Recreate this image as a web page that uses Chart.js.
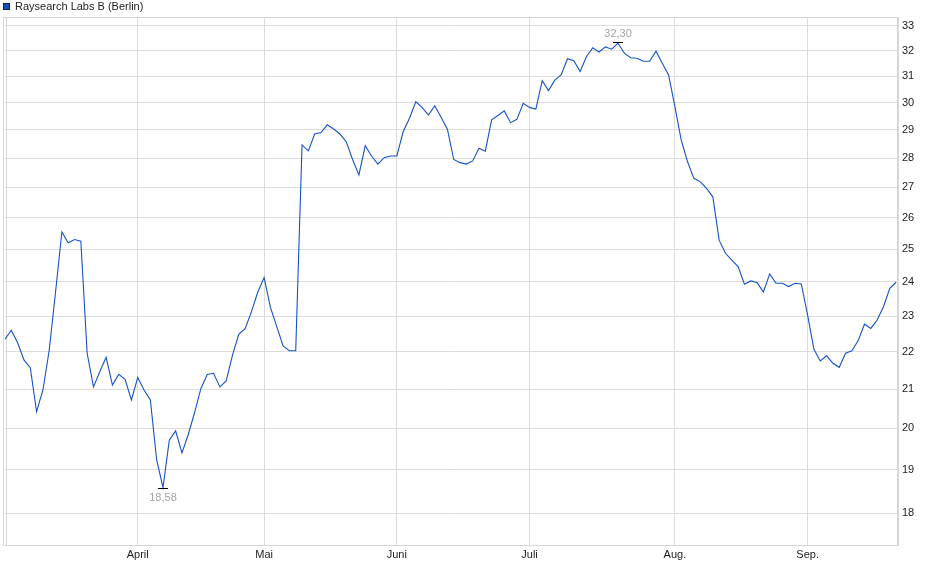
<!DOCTYPE html>
<html>
<head>
<meta charset="utf-8">
<script src="https://cdn.jsdelivr.net/npm/chart.js@4.4.1/dist/chart.umd.min.js"></script>
<style>
html,body{margin:0;padding:0;background:#fff;}
#wrap{width:940px;height:579px;}
</style>
</head>
<body>
<div id="wrap"><canvas id="c" width="940" height="579"></canvas></div>
<script>
const seriesName = 'Raysearch Labs B (Berlin)';
// closing prices per trading day (index 0 = first day in chart)
const prices = [
  22.35, 22.60, 22.25, 21.78, 21.57, 20.42, 20.98, 22.05, 23.70, 25.54,
  25.20, 25.30, 25.25, 21.96, 21.06, 21.46, 21.85, 21.11, 21.39, 21.26,
  20.72, 21.31, 20.98, 20.72, 19.23, 18.58, 19.71, 19.94, 19.40, 19.85,
  20.40, 21.02, 21.39, 21.42, 21.06, 21.22, 21.91, 22.49, 22.64, 23.13,
  23.70, 24.13, 23.25, 22.70, 22.16, 22.03, 22.03, 28.46, 28.25, 28.85,
  28.90, 29.18, 29.03, 28.85, 28.57, 27.95, 27.42, 28.43, 28.07, 27.79,
  28.01, 28.07, 28.07, 28.93, 29.42, 30.03, 29.82, 29.54, 29.88, 29.46,
  29.02, 27.95, 27.84, 27.79, 27.90, 28.34, 28.24, 29.36, 29.52, 29.69,
  29.26, 29.38, 29.97, 29.82, 29.76, 30.83, 30.45, 30.85, 31.05, 31.68,
  31.60, 31.18, 31.76, 32.12, 31.95, 32.15, 32.06, 32.30, 31.90, 31.72,
  31.70, 31.58, 31.58, 31.98, 31.50, 31.05, 29.85, 28.63, 27.87, 27.30,
  27.19, 26.96, 26.68, 25.28, 24.87, 24.66, 24.46, 23.93, 24.03, 23.98,
  23.70, 24.24, 23.96, 23.96, 23.86, 23.96, 23.94, 23.03, 22.07, 21.75,
  21.89, 21.69, 21.58, 21.96, 22.03, 22.31, 22.77, 22.65, 22.89, 23.27,
  23.81, 23.99
];
// index of the first trading day of each month shown on the x axis
const monthTicks = [21, 41, 62, 83, 106, 127];
const monthLabels = ['April', 'Mai', 'Juni', 'Juli', 'Aug.', 'Sep.'];
// y axis tick labels (log scale)
const yTicks = [18, 19, 20, 21, 22, 23, 24, 25, 26, 27, 28, 29, 30, 31, 32, 33];

const FONT = 'Liberation Sans, Arial, sans-serif';
const lineColor = '#1652c6';

const extremesPlugin = {
  id: 'extremes',
  beforeDatasetsDraw(chart) {
    const {ctx, chartArea: a} = chart;
    ctx.save();
    ctx.strokeStyle = '#d6d6d6';
    ctx.lineWidth = 1;
    ctx.strokeRect(Math.round(a.left) - 1.5, Math.round(a.top) + 0.5, Math.round(a.right - a.left) + 1, Math.round(a.bottom - a.top));
    ctx.beginPath();
    ctx.moveTo(Math.round(a.left) + 1.5, a.top);
    ctx.lineTo(Math.round(a.left) + 1.5, a.bottom);
    ctx.stroke();
    ctx.restore();
  },
  afterDatasetsDraw(chart) {
    const {ctx, scales} = chart;
    let minI = 0, maxI = 0;
    prices.forEach((v, i) => {
      if (v < prices[minI]) minI = i;
      if (v > prices[maxI]) maxI = i;
    });
    const fmt = v => v.toFixed(2).replace('.', ',');
    ctx.save();
    ctx.font = '11px ' + FONT;
    ctx.textAlign = 'center';
    ctx.textBaseline = 'middle';
    [[minI, 1], [maxI, -1]].forEach(([i, dir]) => {
      const x = scales.x.getPixelForValue(i);
      const y = scales.y.getPixelForValue(prices[i]);
      const ly = Math.round(y + (dir > 0 ? 0.5 : -1.5)) + 0.5;
      ctx.strokeStyle = '#000';
      ctx.lineWidth = 1;
      ctx.beginPath();
      ctx.moveTo(x - 5, ly);
      ctx.lineTo(x + 5, ly);
      ctx.stroke();
      ctx.fillStyle = '#a3a3a3';
      ctx.fillText(fmt(prices[i]), x, y + (dir > 0 ? 10 : -9));
    });
    ctx.restore();
  },
  afterDraw(chart) {
    const {ctx} = chart;
    ctx.save();
    ctx.fillStyle = '#1a4fb8';
    ctx.fillRect(3, 3, 7, 7);
    ctx.strokeStyle = '#0a1f55';
    ctx.lineWidth = 1;
    ctx.strokeRect(3.5, 3.5, 6, 6);
    ctx.fillStyle = '#222';
    ctx.font = '11px ' + FONT;
    ctx.textAlign = 'left';
    ctx.textBaseline = 'middle';
    ctx.fillText(seriesName, 15, 7);
    ctx.restore();
  }
};

new Chart(document.getElementById('c'), {
  type: 'line',
  data: {
    datasets: [{
      label: seriesName,
      data: prices.map((v, i) => ({x: i, y: v})),
      borderColor: lineColor,
      borderWidth: 1.1,
      pointRadius: 0,
      tension: 0,
      fill: false
    }]
  },
  options: {
    responsive: false,
    animation: false,
    devicePixelRatio: 1,
    layout: {padding: {left: 5, top: 17, right: 0, bottom: 0}},
    plugins: {legend: {display: false}, tooltip: {enabled: false}},
    scales: {
      x: {
        type: 'linear',
        min: 0,
        max: 141.3,
        afterBuildTicks(s) { s.ticks = monthTicks.map(v => ({value: v})); },
        afterFit(s) { s.height = 34; },
        grid: {color: '#dcdcdc', lineWidth: 1, drawTicks: false},
        border: {display: true, color: '#d6d6d6'},
        ticks: {
          autoSkip: false,
          maxRotation: 0,
          padding: 3,
          color: '#222',
          font: {family: FONT, size: 11},
          callback: v => monthLabels[monthTicks.indexOf(v)] || ''
        }
      },
      y: {
        type: 'logarithmic',
        position: 'right',
        min: 17.3,
        max: 33.37,
        afterBuildTicks(s) { s.ticks = yTicks.map(v => ({value: v})); },
        afterFit(s) { s.width = 42; },
        grid: {color: '#dcdcdc', lineWidth: 1, drawTicks: false},
        border: {display: true, color: '#d6d6d6'},
        ticks: {
          autoSkip: false,
          padding: 4,
          color: '#222',
          font: {family: FONT, size: 11},
          callback: v => String(v)
        }
      }
    }
  },
  plugins: [extremesPlugin]
});
</script>
</body>
</html>
